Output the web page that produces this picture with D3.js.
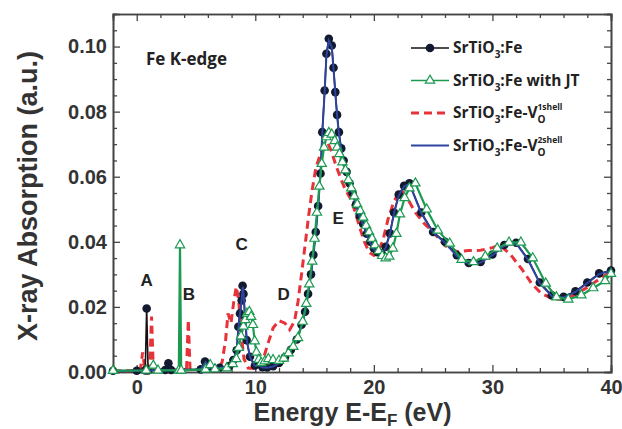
<!DOCTYPE html>
<html>
<head>
<meta charset="utf-8">
<script src="https://cdn.jsdelivr.net/npm/d3@7"></script>
<style>
  body { margin: 0; background: #fff; }
  svg { display: block; }
</style>
</head>
<body>
<svg id="chart"></svg>
<script>
// energy (eV), absorption (a.u.)
const feData = [
  [-2, 0.0004], [0.0, 0.0004], [0.72, 0.0005], [0.84, 0.0195], [0.96, 0.0005], [2.4, 0.0006], [2.67, 0.0027], [2.9, 0.0006],
  [5.4, 0.0008], [5.76, 0.0032], [6.1, 0.0012], [7.0, 0.0013], [7.8, 0.0018], [8.15, 0.0037], [8.43, 0.0067], [8.57, 0.0139],
  [8.71, 0.018], [8.85, 0.022], [8.93, 0.0265], [9.0, 0.024], [9.13, 0.017], [9.27, 0.0098], [9.55, 0.0047], [9.97, 0.002],
  [10.25, 0.0025], [10.6, 0.0015], [11.0, 0.0014], [11.5, 0.0018], [12.0, 0.0028], [12.5, 0.0045], [13.0, 0.0068], [13.5, 0.0100],
  [13.9, 0.0145], [14.2, 0.0185], [14.45, 0.024], [14.7, 0.030], [14.9, 0.036], [15.1, 0.043], [15.3, 0.051], [15.5, 0.061],
  [15.65, 0.0737], [15.85, 0.0865], [16.0, 0.0978], [16.2, 0.1024], [16.45, 0.1003], [16.6, 0.0935], [16.75, 0.086], [16.9, 0.079],
  [17.05, 0.0737], [17.25, 0.0687], [17.45, 0.065], [17.7, 0.0615], [17.95, 0.058], [18.2, 0.055], [18.5, 0.0515], [18.8, 0.048],
  [19.1, 0.0455], [19.4, 0.0425], [19.7, 0.040], [20.0, 0.038], [20.3, 0.0368], [20.65, 0.0365], [21.0, 0.0385], [21.35, 0.0426],
  [21.7, 0.049], [22.1, 0.0545], [22.55, 0.0572], [23.0, 0.058], [24.0, 0.049], [25.0, 0.043], [26.0, 0.040], [27.0, 0.0359],
  [28.0, 0.0335], [29.0, 0.0338], [30.0, 0.0361], [31.0, 0.039], [32.0, 0.0397], [33.0, 0.0347], [34.0, 0.0275], [35.0, 0.0236],
  [36.0, 0.0231], [37.0, 0.0248], [38.0, 0.0275], [39.0, 0.0303], [40.0, 0.0312]
];
const jtData = [
  [-2, 0.0004], [0.8, 0.0005], [1.4, 0.002], [1.8, 0.0005], [3.55, 0.0005], [3.65, 0.039], [3.75, 0.0005], [5.8, 0.0008],
  [6.2, 0.0022], [6.6, 0.0009], [7.6, 0.0012], [8.1, 0.0025], [8.4, 0.004], [8.6, 0.0075], [8.8, 0.011], [9.0, 0.014],
  [9.15, 0.016], [9.3, 0.018], [9.5, 0.0185], [9.65, 0.017], [9.8, 0.0145], [9.95, 0.0095], [10.1, 0.006], [10.3, 0.0038],
  [10.5, 0.0028], [10.8, 0.0033], [11.1, 0.004], [11.5, 0.0037], [12.0, 0.0035], [12.4, 0.0042], [12.8, 0.0058], [13.2, 0.0078],
  [13.6, 0.0105], [14.0, 0.0155], [14.3, 0.021], [14.55, 0.027], [14.8, 0.034], [15.0, 0.041], [15.2, 0.049], [15.4, 0.057],
  [15.6, 0.064], [15.8, 0.069], [16.0, 0.0722], [16.2, 0.0735], [16.45, 0.073], [16.7, 0.071], [16.9, 0.069], [17.1, 0.067],
  [17.35, 0.0645], [17.6, 0.062], [17.85, 0.059], [18.1, 0.0565], [18.35, 0.054], [18.6, 0.0515], [18.85, 0.0495], [19.1, 0.0475],
  [19.35, 0.045], [19.6, 0.043], [19.85, 0.041], [20.1, 0.039], [20.4, 0.0372], [20.7, 0.0357], [21.0, 0.035], [21.3, 0.0355],
  [21.6, 0.038], [21.9, 0.0425], [22.2, 0.0485], [22.6, 0.0535], [23.0, 0.0565], [23.5, 0.058], [24.45, 0.050], [25.4, 0.0435],
  [26.4, 0.0395], [27.4, 0.0345], [28.4, 0.0338], [29.4, 0.0355], [30.4, 0.038], [31.4, 0.0398], [32.4, 0.0398], [33.4, 0.035],
  [34.5, 0.0272], [35.4, 0.023], [36.4, 0.0223], [37.5, 0.0236], [38.5, 0.0258], [39.5, 0.028], [40.0, 0.0302]
];
const vo1Data = [
  [-2, 0.0003], [0.3, 0.0005], [0.5, 0.006], [0.7, 0.0005], [1.1, 0.0008], [1.25, 0.017], [1.4, 0.0008], [4.2, 0.0006],
  [4.35, 0.016], [4.5, 0.0008], [6.8, 0.0008], [7.2, 0.003], [7.5, 0.010], [7.7, 0.018], [7.95, 0.015], [8.2, 0.022],
  [8.4, 0.0262], [8.6, 0.022], [8.8, 0.012], [9.05, 0.004], [9.4, 0.0012], [10.2, 0.001], [10.6, 0.003], [11.0, 0.008],
  [11.5, 0.0135], [12.0, 0.0158], [12.5, 0.015], [12.9, 0.013], [13.3, 0.0155], [13.6, 0.0215], [13.9, 0.030], [14.2, 0.039],
  [14.5, 0.048], [14.8, 0.056], [15.1, 0.0625], [15.4, 0.066], [15.8, 0.069], [16.1, 0.0705], [16.4, 0.068], [16.8, 0.0635],
  [17.2, 0.0595], [17.6, 0.056], [18.0, 0.0535], [18.4, 0.0495], [18.8, 0.0445], [19.2, 0.040], [19.6, 0.0368], [20.0, 0.0358],
  [20.4, 0.037], [20.8, 0.041], [21.2, 0.047], [21.7, 0.0525], [22.3, 0.056], [22.8, 0.0535], [23.5, 0.049], [24.2, 0.0458],
  [25.0, 0.043], [26.0, 0.0388], [27.0, 0.037], [28.0, 0.0373], [29.0, 0.0374], [30.0, 0.0382], [30.6, 0.039], [31.5, 0.0362],
  [32.5, 0.0315], [33.3, 0.0272], [34.1, 0.0242], [35.0, 0.0226], [36.0, 0.0222], [37.0, 0.0238], [38.0, 0.026], [39.0, 0.0285],
  [40.0, 0.031]
];
const vo2Data = [
  [-2, 0.0004], [0.0, 0.0004], [5.4, 0.0008], [5.8, 0.003], [6.1, 0.0012], [7.0, 0.0013], [7.8, 0.0018], [8.15, 0.0035],
  [8.43, 0.0065], [8.57, 0.0135], [8.71, 0.0178], [8.85, 0.0222], [8.95, 0.0262], [9.02, 0.0238], [9.15, 0.0165], [9.3, 0.0095],
  [9.55, 0.0045], [9.97, 0.0018], [10.3, 0.0022], [10.6, 0.0014], [11.0, 0.0013], [11.5, 0.0017], [12.0, 0.0027], [12.5, 0.0044],
  [13.0, 0.0066], [13.5, 0.0098], [13.9, 0.0142], [14.2, 0.0182], [14.45, 0.0238], [14.7, 0.0298], [14.9, 0.0358], [15.1, 0.0428],
  [15.3, 0.0508], [15.5, 0.0608], [15.65, 0.0733], [15.85, 0.086], [16.0, 0.0972], [16.2, 0.1018], [16.45, 0.0998], [16.6, 0.093],
  [16.75, 0.0856], [16.9, 0.0787], [17.05, 0.0734], [17.25, 0.0684], [17.45, 0.0648], [17.7, 0.0612], [17.95, 0.0577], [18.2, 0.0547],
  [18.5, 0.0512], [18.8, 0.0477], [19.1, 0.0452], [19.4, 0.0422], [19.7, 0.0397], [20.0, 0.0377], [20.3, 0.0365], [20.65, 0.0362],
  [21.0, 0.0382], [21.35, 0.0423], [21.7, 0.0487], [22.1, 0.0542], [22.55, 0.057], [23.0, 0.0578], [24.0, 0.0488], [25.0, 0.0428],
  [26.0, 0.0397], [27.0, 0.0356], [28.0, 0.0332], [29.0, 0.0336], [30.0, 0.0359], [31.0, 0.0388], [32.0, 0.0395], [33.0, 0.0345],
  [34.0, 0.0272], [35.0, 0.0233], [36.0, 0.0229], [37.0, 0.0246], [38.0, 0.0273], [39.0, 0.0301], [40.0, 0.0311]
];

const xMajor = [0, 10, 20, 30, 40];
const yMajor = [0.00, 0.02, 0.04, 0.06, 0.08, 0.10];
const peakLabels = ["A", "B", "C", "D", "E"];
const peakPos = [[0.84, 0.0265], [4.4, 0.0222], [8.85, 0.0375], [12.4, 0.0222], [17.0, 0.0455]];

const width = 622, height = 429;
const margin = { top: 14, right: 11, bottom: 57, left: 113 };
const innerW = width - margin.left - margin.right;
const innerH = height - margin.top - margin.bottom;

const svg = d3.select("#chart").attr("width", width).attr("height", height);
const g = svg.append("g").attr("transform", "translate(" + margin.left + "," + margin.top + ")");

const x = d3.scaleLinear().domain([-2, 40]).range([0, innerW]);
const y = d3.scaleLinear().domain([0, 0.11]).range([innerH, 0]);

const xMinor = d3.range(-2, 41, 2).filter(v => !xMajor.includes(v));
const yMinor = d3.range(0.005, 0.111, 0.005).filter(v => !yMajor.some(m => Math.abs(m - v) < 1e-6));

const axisColor = "#444";
const tickFont = "'Liberation Sans', Arial, sans-serif";

// bottom + left axes with labels, top + right mirrored without labels
g.append("g").attr("transform", "translate(0," + innerH + ")")
  .call(d3.axisBottom(x).tickValues(xMajor).tickSize(-7).tickPadding(8).tickFormat(d3.format("d")));
g.append("g").attr("transform", "translate(0," + innerH + ")")
  .call(d3.axisBottom(x).tickValues(xMinor).tickSize(-4).tickFormat(""));
g.append("g").call(d3.axisTop(x).tickValues(xMajor).tickSize(-7).tickFormat(""));
g.append("g").call(d3.axisTop(x).tickValues(xMinor).tickSize(-4).tickFormat(""));

g.append("g")
  .call(d3.axisLeft(y).tickValues(yMajor).tickSize(-7).tickPadding(6).tickFormat(d3.format(".2f")));
g.append("g").call(d3.axisLeft(y).tickValues(yMinor).tickSize(-4).tickFormat(""));
g.append("g").attr("transform", "translate(" + innerW + ",0)")
  .call(d3.axisRight(y).tickValues(yMajor).tickSize(-7).tickFormat(""));
g.append("g").attr("transform", "translate(" + innerW + ",0)")
  .call(d3.axisRight(y).tickValues(yMinor).tickSize(-4).tickFormat(""));

g.selectAll(".domain").attr("stroke", axisColor).attr("stroke-width", 1.6);
g.selectAll(".tick line").attr("stroke", axisColor).attr("stroke-width", 1.3);
g.selectAll(".tick text")
  .attr("fill", "#333")
  .style("font-family", tickFont)
  .style("font-weight", "bold")
  .style("font-size", "20px");

// curves
const line = d3.line().x(d => x(d[0])).y(d => y(d[1]));

g.append("path").datum(vo1Data)
  .attr("d", line)
  .attr("fill", "none")
  .attr("stroke", "#e8323a")
  .attr("stroke-width", 3)
  .attr("stroke-dasharray", "8,5");

g.append("path").datum(feData)
  .attr("d", line)
  .attr("fill", "none")
  .attr("stroke", "#111")
  .attr("stroke-width", 1.6);

g.selectAll(".fe-pt").data(feData).enter()
  .append("circle")
  .attr("class", "fe-pt")
  .attr("cx", d => x(d[0]))
  .attr("cy", d => y(d[1]))
  .attr("r", 4.3)
  .attr("fill", "#111a2e");

g.append("path").datum(vo2Data)
  .attr("d", line)
  .attr("fill", "none")
  .attr("stroke", "#2f44a0")
  .attr("stroke-width", 2);

g.append("path").datum(jtData)
  .attr("d", line)
  .attr("fill", "none")
  .attr("stroke", "#1c9a52")
  .attr("stroke-width", 2.2);

const tri = d3.symbol().type(d3.symbolTriangle).size(38);
g.selectAll(".jt-pt").data(jtData).enter()
  .append("path")
  .attr("class", "jt-pt")
  .attr("d", tri)
  .attr("transform", d => "translate(" + x(d[0]) + "," + y(d[1]) + ")")
  .attr("fill", "#fff")
  .attr("stroke", "#1c9a52")
  .attr("stroke-width", 1.2);

// peak letters
g.selectAll(".peak").data(peakLabels).enter()
  .append("text")
  .attr("x", (d, i) => x(peakPos[i][0]))
  .attr("y", (d, i) => y(peakPos[i][1]))
  .attr("text-anchor", "middle")
  .style("font-family", tickFont)
  .style("font-weight", "bold")
  .style("font-size", "17px")
  .attr("fill", "#222")
  .text(d => d);

g.append("text")
  .attr("x", 33).attr("y", 51)
  .style("font-family", "'Open Sans', sans-serif")
  .style("font-weight", "bold")
  .style("font-size", "17px")
  .attr("fill", "#222")
  .text("Fe K-edge");

// legend
const legendRows = [
  { color: "#111", mark: "circle", dash: null, parts: [["SrTiO", 0], ["3", 1], [":Fe", 0]] },
  { color: "#1c9a52", mark: "tri", dash: null, parts: [["SrTiO", 0], ["3", 1], [":Fe with JT", 0]] },
  { color: "#e8323a", mark: null, dash: "8,5", parts: [["SrTiO", 0], ["3", 1], [":Fe-V", 0], ["O", 1], ["1shell", 2]] },
  { color: "#2f44a0", mark: null, dash: null, parts: [["SrTiO", 0], ["3", 1], [":Fe-V", 0], ["O", 1], ["2shell", 2]] }
];
const legend = svg.append("g").attr("transform", "translate(411,48)");
legendRows.forEach((row, i) => {
  const r = legend.append("g").attr("transform", "translate(0," + (i * 32.5) + ")");
  r.append("line").attr("x1", 0).attr("x2", 38).attr("y1", 0).attr("y2", 0)
    .attr("stroke", row.color)
    .attr("stroke-width", row.dash ? 3 : (row.mark ? 1.6 : 2.2))
    .attr("stroke-dasharray", row.dash);
  if (row.mark === "circle") {
    r.append("circle").attr("cx", 19).attr("cy", 0).attr("r", 4.3).attr("fill", "#111a2e");
  } else if (row.mark === "tri") {
    r.append("path").attr("d", tri).attr("transform", "translate(19,0)")
      .attr("fill", "#fff").attr("stroke", row.color).attr("stroke-width", 1.2);
  }
  const t = r.append("text").attr("x", 42).attr("y", 5)
    .style("font-family", "'Open Sans', sans-serif")
    .style("font-weight", "bold")
    .style("font-size", "15.5px")
    .attr("fill", "#222");
  let shift = 0, lastSub = null;
  row.parts.forEach(p => {
    const s = t.append("tspan").text(p[0]);
    if (p[1] === 1) {
      s.attr("dy", 5 - shift).style("font-size", "10px");
      shift = 5;
      lastSub = s;
    } else if (p[1] === 2) {
      const w = lastSub.node().getComputedTextLength();
      s.attr("dx", -w).attr("dy", -13).style("font-size", "8.5px");
      shift = -8;
    } else {
      s.attr("dy", -shift);
      shift = 0;
    }
  });
});

// axis titles
svg.append("text")
  .attr("x", margin.left + x(18.2))
  .attr("y", 421)
  .attr("text-anchor", "middle")
  .style("font-family", tickFont)
  .style("font-weight", "bold")
  .style("font-size", "25px")
  .attr("fill", "#333")
  .call(t => {
    t.append("tspan").text("Energy E-E");
    t.append("tspan").attr("dy", 5).style("font-size", "17px").text("F");
    t.append("tspan").attr("dy", -5).text(" (eV)");
  });

svg.append("text")
  .attr("transform", "rotate(-90)")
  .attr("x", -196)
  .attr("y", 37)
  .attr("text-anchor", "middle")
  .style("font-family", tickFont)
  .style("font-weight", "bold")
  .style("font-size", "27px")
  .attr("fill", "#333")
  .text("X-ray Absorption (a.u.)");
</script>
</body>
</html>
